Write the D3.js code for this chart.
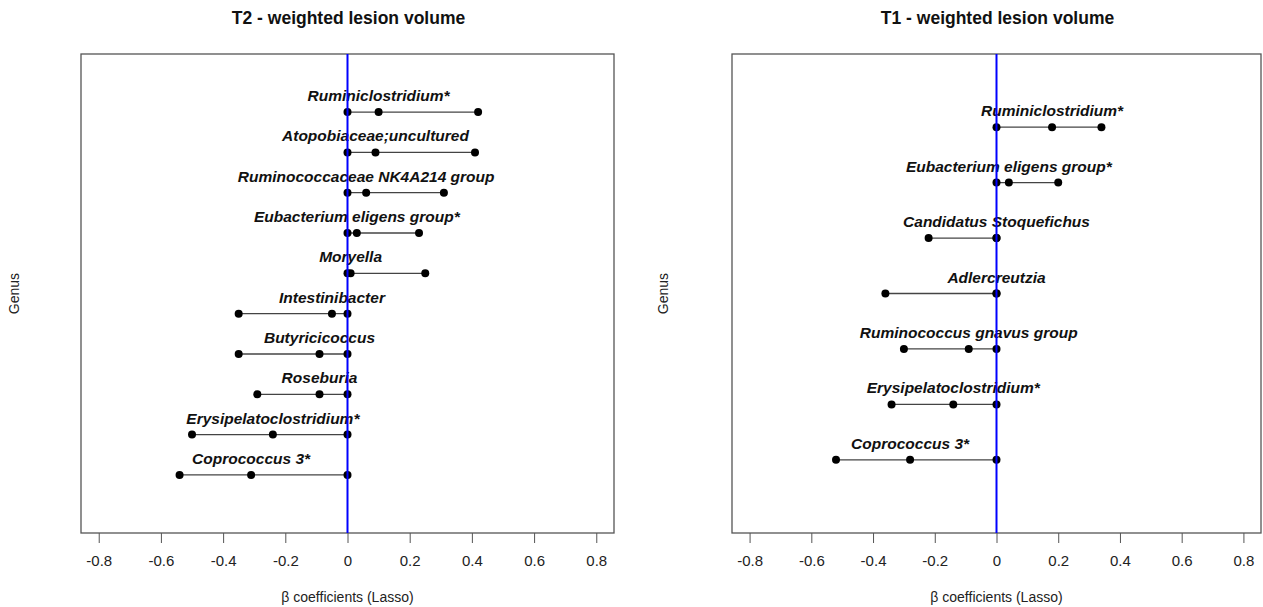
<!DOCTYPE html>
<html><head><meta charset="utf-8">
<script src="https://cdn.jsdelivr.net/npm/d3@7"></script>
<style>body{margin:0;background:#fff}svg{display:block}text{font-family:"Liberation Sans",Arial,sans-serif}</style>
</head><body><svg id="c" width="1263" height="607"></svg>
<script>
// ---- data ----
const t2Genus = ["Ruminiclostridium*","Atopobiaceae;uncultured","Ruminococcaceae NK4A214 group","Eubacterium eligens group*","Moryella","Intestinibacter","Butyricicoccus","Roseburia","Erysipelatoclostridium*","Coprococcus 3*"];
const t2Lower = [0, 0, 0, 0, 0, -0.35, -0.35, -0.29, -0.50, -0.54];
const t2Est   = [0.10, 0.09, 0.06, 0.03, 0.01, -0.05, -0.09, -0.09, -0.24, -0.31];
const t2Upper = [0.42, 0.41, 0.31, 0.23, 0.25, 0, 0, 0, 0, 0];

const t1Genus = ["Ruminiclostridium*","Eubacterium eligens group*","Candidatus Stoquefichus","Adlercreutzia","Ruminococcus gnavus group","Erysipelatoclostridium*","Coprococcus 3*"];
const t1Lower = [0, 0, -0.22, -0.36, -0.30, -0.34, -0.52];
const t1Est   = [0.18, 0.04, 0, 0, -0.09, -0.14, -0.28];
const t1Upper = [0.34, 0.20, 0, 0, 0, 0, 0];

const xTicks = [-0.8, -0.6, -0.4, -0.2, 0, 0.2, 0.4, 0.6, 0.8];
const xTickLabels = ["-0.8", "-0.6", "-0.4", "-0.2", "0", "0.2", "0.4", "0.6", "0.8"];
const titles = ["T2 - weighted lesion volume", "T1 - weighted lesion volume"];
const xLabel = "\u03B2 coefficients (Lasso)";
const yLabel = "Genus";

const svg = d3.select("#c");

function panel(left, right, title, genus, lo, est, up, genusX) {
  const top = 54, bottom = 533;
  const n = genus.length;
  const x = d3.scaleLinear().domain([-0.857, 0.857]).range([left, right]);
  const y = d3.scaleLinear().domain([-0.04 * (n + 1), (n + 1) * 1.04]).range([bottom, top]);
  const g = svg.append("g");
  g.append("rect").attr("x", left).attr("y", top).attr("width", right - left).attr("height", bottom - top)
    .attr("fill", "none").attr("stroke", "#555").attr("stroke-width", 1.3);
  // title
  g.append("text").attr("x", (left + right) / 2 + 1).attr("y", 24).attr("text-anchor", "middle")
    .attr("font-size", 17.5).attr("font-weight", "bold").attr("fill", "#111").text(title);
  // axis
  const ax = g.append("g").attr("transform", `translate(0,${bottom})`)
    .call(d3.axisBottom(x).tickValues(xTicks).tickSize(10).tickPadding(12)
      .tickFormat((d, i) => xTickLabels[i]));
  ax.select(".domain").remove();
  ax.selectAll(".tick line").attr("stroke", "#555");
  ax.selectAll(".tick text").attr("font-size", 15).attr("fill", "#222").style("font-family", "'Liberation Sans',Arial,sans-serif");
  g.append("text").attr("x", (left + right) / 2).attr("y", 602).attr("text-anchor", "middle")
    .attr("font-size", 14).attr("fill", "#222").text(xLabel);
  g.append("text").attr("transform", `translate(${genusX},${(top + bottom) / 2}) rotate(-90)`)
    .attr("text-anchor", "middle").attr("font-size", 14).attr("fill", "#222").text(yLabel);
  // rows (first item on top)
  const rows = genus.map((name, i) => ({ name, lo: lo[i], est: est[i], up: up[i], pos: n - i }));
  const r = g.selectAll("g.row").data(rows).join("g").attr("class", "row");
  r.append("line").attr("x1", d => x(d.lo)).attr("x2", d => x(d.up))
    .attr("y1", d => y(d.pos)).attr("y2", d => y(d.pos)).attr("stroke", "#444").attr("stroke-width", 1.3);
  // zero line
  g.append("line").attr("x1", x(0)).attr("x2", x(0)).attr("y1", top).attr("y2", bottom)
    .attr("stroke", "#0000ff").attr("stroke-width", 2);
  r.selectAll("circle").data(d => [d.lo, d.est, d.up].map(v => ({ v, pos: d.pos })))
    .join("circle").attr("cx", d => x(d.v)).attr("cy", d => y(d.pos)).attr("r", 4).attr("fill", "#000");
  r.append("text").attr("x", d => x(d.est)).attr("y", d => y(d.pos) - 11)
    .attr("text-anchor", "middle").attr("font-size", 15.5).attr("font-weight", "bold").attr("font-style", "italic")
    .attr("fill", "#111").text(d => d.name);
}

panel(81, 614, titles[0], t2Genus, t2Lower, t2Est, t2Upper, 19);
panel(732, 1261, titles[1], t1Genus, t1Lower, t1Est, t1Upper, 668);
</script></body></html>
